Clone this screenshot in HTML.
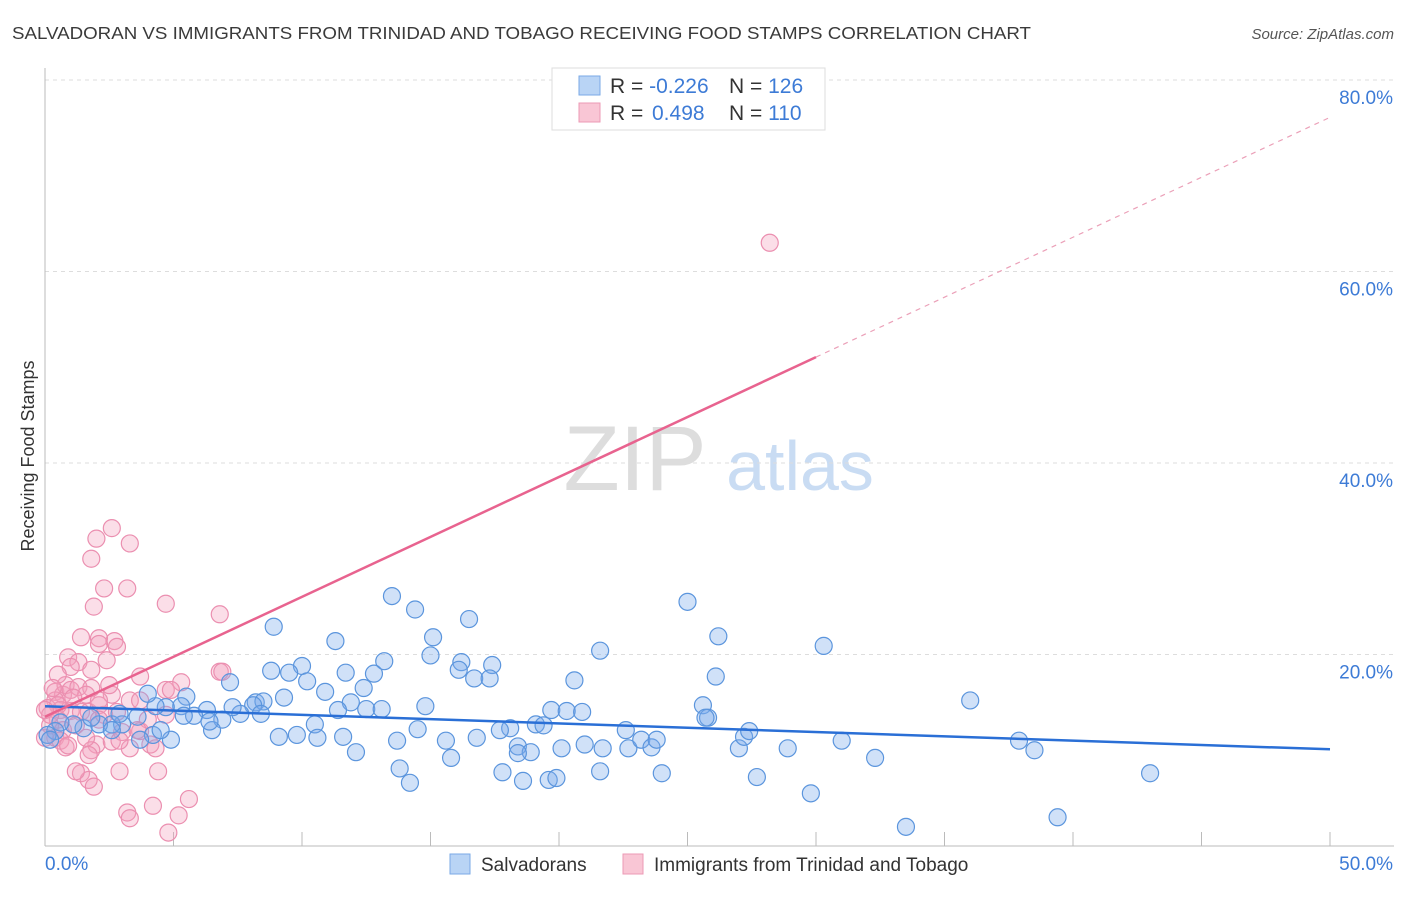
<!DOCTYPE html>
<html><head><meta charset="utf-8"><style>
body{margin:0;background:#fff;font-family:"Liberation Sans",sans-serif}
svg text{font-family:"Liberation Sans",sans-serif}
</style></head><body>
<svg id="chart" width="1406" height="892" xmlns="http://www.w3.org/2000/svg">
<text x="12" y="39" font-size="17.5" fill="#3a3a3a" textLength="1019" lengthAdjust="spacingAndGlyphs">SALVADORAN VS IMMIGRANTS FROM TRINIDAD AND TOBAGO RECEIVING FOOD STAMPS CORRELATION CHART</text>
<text x="1394" y="39" font-size="15" fill="#555" font-style="italic" text-anchor="end">Source: ZipAtlas.com</text>
<g>
<text x="635" y="490" font-size="92" fill="#ddd" font-family="Liberation Serif" text-anchor="middle">ZIP</text>
<text x="800" y="490" font-size="70" fill="#c9dcf3" text-anchor="middle">atlas</text>
</g>
<text transform="translate(34,456) rotate(-90)" font-size="18" fill="#333" text-anchor="middle">Receiving Food Stamps</text>
<g id="grid"></g>
<g id="axes"></g>
<g id="pts"></g>
<g id="trend"></g>
<g>
<rect x="552" y="68" width="273" height="62" fill="#fff" stroke="#ddd"/>
<rect x="579" y="76" width="21" height="19" fill="#b9d4f5" stroke="#7aa9e6"/>
<rect x="579" y="103" width="21" height="19" fill="#f9c6d5" stroke="#ec9ab5"/>
<text x="610" y="93" font-size="21" fill="#333">R = <tspan fill="#3d7bd6">-0.226</tspan><tspan x="729">N = </tspan><tspan fill="#3d7bd6">126</tspan></text>
<text x="610" y="120" font-size="21" fill="#333">R = <tspan fill="#3d7bd6" x="652">0.498</tspan><tspan x="729">N = </tspan><tspan fill="#3d7bd6">110</tspan></text>
</g>
<g>
<rect x="450" y="854" width="20" height="20" fill="#b9d4f5" stroke="#7aa9e6"/>
<text x="481" y="871" font-size="19" fill="#333">Salvadorans</text>
<rect x="623" y="854" width="20" height="20" fill="#f9c6d5" stroke="#ec9ab5"/>
<text x="654" y="871" font-size="19" fill="#333">Immigrants from Trinidad and Tobago</text>
</g>
</svg>
<script>
const yTicks=[20,40,60,80];
const yTickLabels=["20.0%","40.0%","60.0%","80.0%"];
const xTicks=[0,5,10,15,20,25,30,35,40,45,50];
const xMinLabel="0.0%", xMaxLabel="50.0%";
const blueX=[13.5,14.4,16.5,15.1,11.3,8.9,15.0,13.2,16.2,17.4,16.1,16.7,17.3,11.7,12.8,10.0,8.8,9.5,10.2,10.9,12.4,11.9,12.5,13.1,14.8,11.4,10.5,9.3,8.2,8.5,8.1,7.6,7.3,8.4,7.2,5.5,6.3,5.8,6.9,6.5,6.4,5.3,4.7,4.3,4.0,3.6,3.0,2.6,2.1,4.9,4.2,3.7,2.6,1.5,1.1,0.6,0.4,0.1,0.2,1.8,9.1,9.8,10.6,11.6,12.1,13.7,14.5,15.6,15.8,16.8,17.8,18.1,18.4,18.6,18.9,19.1,19.6,19.9,19.7,20.3,20.9,20.1,21.0,20.6,21.6,21.7,22.6,21.6,22.7,23.2,23.6,23.8,24.0,25.0,26.2,26.1,25.6,25.8,25.7,27.0,27.2,27.4,27.7,28.9,29.8,30.3,31.0,32.3,33.5,36.0,37.9,38.5,39.4,43.0,13.8,14.2,19.4,17.7,18.4,5.4,4.5,2.9];
const blueY=[26.1,24.7,23.7,21.8,21.4,22.9,19.9,19.3,19.2,18.9,18.4,17.5,17.5,18.1,18.0,18.8,18.3,18.1,17.2,16.1,16.5,15.0,14.3,14.3,14.6,14.2,12.7,15.5,15.0,15.1,14.7,13.8,14.5,13.8,17.1,15.6,14.2,13.6,13.2,12.1,13.0,14.6,14.5,14.6,15.9,13.5,12.7,12.7,12.7,11.1,11.6,11.1,12.1,12.3,12.7,12.9,12.0,11.6,11.1,13.4,11.4,11.6,11.3,11.4,9.8,11.0,12.2,11.0,9.2,11.3,7.7,12.3,10.4,6.8,9.8,12.7,6.9,7.1,14.2,14.1,14.0,10.2,10.6,17.3,20.4,10.2,12.1,7.8,10.2,11.1,10.3,11.1,7.6,25.5,21.9,17.7,14.7,13.4,13.4,10.2,11.4,12.0,7.2,10.2,5.5,20.9,11.0,9.2,2.0,15.2,11.0,10.0,3.0,7.6,8.1,6.6,12.6,12.1,9.7,13.6,12.1,13.8];
const pinkX=[28.2,2.6,2.0,3.3,1.8,2.3,3.2,1.9,4.7,6.8,6.8,1.4,2.7,2.1,2.1,2.8,0.9,1.3,1.0,2.4,3.7,5.3,6.9,1.8,0.4,0.7,0.8,1.0,1.3,1.8,1.6,0.4,0.1,0.6,1.0,1.4,1.7,2.1,2.6,2.3,0.5,0.2,0.7,0.4,0.6,0.0,0.8,2.0,2.6,3.3,4.1,4.7,4.7,2.8,3.0,3.7,4.0,2.9,3.6,1.8,1.4,1.7,1.9,2.9,4.4,3.2,3.3,4.2,5.2,5.6,4.8,1.2,1.7,2.1,0.5,0.2,0.0,1.2,0.9,2.5,4.9,3.3,1.6,1.1,2.1,4.3,3.7,0.5,0.3];
const pinkY=[63.0,33.2,32.1,31.6,30.0,26.9,26.9,25.0,25.3,24.2,18.2,21.8,21.4,21.7,21.1,20.8,19.7,19.2,18.7,19.4,17.7,17.1,18.2,18.4,16.1,15.8,16.8,16.3,16.6,16.5,15.8,15.2,14.4,14.2,14.1,14.0,14.0,14.7,15.8,13.7,13.2,12.6,12.1,11.3,11.0,11.3,10.3,10.6,10.9,10.2,10.6,16.3,13.7,14.0,11.9,12.0,13.2,11.0,12.1,10.0,7.6,6.9,6.2,7.8,7.8,3.5,2.9,4.2,3.2,4.9,1.4,7.8,9.5,15.2,14.7,13.7,14.2,12.6,10.5,16.8,16.3,15.2,11.3,15.5,13.2,10.2,15.2,17.9,16.5];
const blueTrend=[14.6,10.1];
const pinkTrend=[13.5,76.1];
const pinkSolidEnd=30;

const NS="http://www.w3.org/2000/svg";
const X0=45,X1=1330,Y0=846,PXY=9.575;
function sx(v){return X0+(v/50)*(X1-X0);}
function sy(v){return Y0-v*PXY;}
function mk(tag,attrs,parent){const e=document.createElementNS(NS,tag);for(const k in attrs)e.setAttribute(k,attrs[k]);parent.appendChild(e);return e;}
const grid=document.getElementById('grid'),axes=document.getElementById('axes'),pts=document.getElementById('pts'),trend=document.getElementById('trend');
yTicks.forEach((t,i)=>{
  const l=mk('line',{x1:X0,x2:1394,y1:sy(t),y2:sy(t),stroke:'#ddd','stroke-dasharray':'4,4'},grid);
  
  
  const tx=mk('text',{x:1393,y:sy(t)+24,'font-size':19,fill:'#3d7bd6','text-anchor':'end'},axes);
  tx.textContent=yTickLabels[i];
  
  
});
mk('line',{x1:X0,x2:X0,y1:68,y2:Y0,stroke:'#bbb'},axes);
mk('line',{x1:X0,x2:1394,y1:Y0,y2:Y0,stroke:'#bbb'},axes);
xTicks.forEach(t=>{const l=mk('line',{x1:sx(t),x2:sx(t),y1:Y0-14,y2:Y0,stroke:'#bbb'},axes);
  
  });
const xl=mk('text',{x:45,y:870,'font-size':19,fill:'#3d7bd6'},axes);xl.textContent=xMinLabel;


const xr=mk('text',{x:1393,y:870,'font-size':19,fill:'#3d7bd6','text-anchor':'end'},axes);xr.textContent=xMaxLabel;


pinkX.forEach((v,i)=>{const c=mk('circle',{cx:sx(v),cy:sy(pinkY[i]),r:8.5,fill:'rgba(244,160,190,0.35)',stroke:'#eb8fb0','stroke-width':1.2},pts);
  
  });
blueX.forEach((v,i)=>{const c=mk('circle',{cx:sx(v),cy:sy(blueY[i]),r:8.5,fill:'rgba(120,170,235,0.35)',stroke:'#5b95dd','stroke-width':1.2},pts);
  
  });
const bt=mk('line',{x1:sx(0),y1:sy(blueTrend[0]),x2:sx(50),y2:sy(blueTrend[1]),stroke:'#2a6fd6','stroke-width':2.5},trend);


const pm=pinkTrend[0]+(pinkTrend[1]-pinkTrend[0])*pinkSolidEnd/50;
const pt=mk('line',{x1:sx(0),y1:sy(pinkTrend[0]),x2:sx(pinkSolidEnd),y2:sy(pm),stroke:'#e8638f','stroke-width':2.5},trend);


const pd=mk('line',{x1:sx(pinkSolidEnd),y1:sy(pm),x2:sx(50),y2:sy(pinkTrend[1]),stroke:'#eba0b8','stroke-width':1.2,'stroke-dasharray':'5,5'},trend);


</script>
</body></html>
